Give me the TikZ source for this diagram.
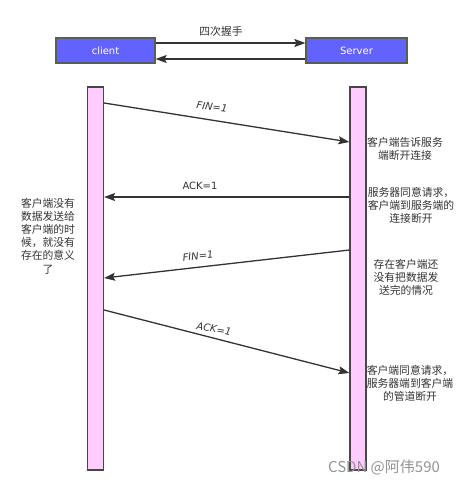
\documentclass[tikz,border=0pt]{standalone}
\usepackage{fontspec}
\setmainfont{DejaVu Sans}
\newfontfamily\cjk{Noto Sans CJK SC}
\usetikzlibrary{arrows.meta}
\definecolor{boxblue}{HTML}{6262FF}
\definecolor{barpink}{HTML}{FFCCFF}
\definecolor{linegray}{HTML}{333333}
\definecolor{txtgray}{HTML}{333333}
\tikzset{
  hostbox/.style={draw=linegray!80, line width=1.2pt, fill=boxblue, text=white,
    minimum width=99pt, minimum height=25pt, inner sep=0pt, font=\fontsize{10}{12}\selectfont},
  lifebar/.style={draw=linegray!90, line width=1.2pt, fill=barpink,
    minimum width=16pt, minimum height=383pt, inner sep=0pt},
  msg/.style={draw=linegray, line width=1.3pt, -{Stealth[length=11pt,width=8pt,inset=2pt]}},
  msglabel/.style={text=txtgray, inner sep=0pt, font=\fontsize{10}{12}\selectfont\itshape},
  note/.style={text=txtgray, inner sep=0pt, align=center, font=\cjk\fontsize{10.8}{13.2}\selectfont}
}
\begin{document}
\begin{tikzpicture}[x=1pt,y=-1pt]
\useasboundingbox (0,0) rectangle (461,489);
% hosts
\node[hostbox] (client) at (105.5,50.5) {client};
\node[hostbox, minimum width=101pt] (server) at (356.5,50.5) {Server};
\node[note] (title) at (221,31) {四次握手};
\draw[msg] (client.east |- 0,43) -- (server.west |- 0,43);
\draw[msg] (server.west |- 0,59) -- (client.east |- 0,59);
% life bars
\node[lifebar] (lb) at (95.5,278.5) {};
\node[lifebar] (rb) at (358,278.5) {};
% message end points
\coordinate (m1s) at (lb.east |- 0,103);
\coordinate (m1e) at (rb.west |- 0,142);
\coordinate (m2s) at (rb.west |- 0,197);
\coordinate (m2e) at (lb.east |- 0,197);
\coordinate (m3s) at (rb.west |- 0,250);
\coordinate (m3e) at (lb.east |- 0,278);
\coordinate (m4s) at (lb.east |- 0,310);
\coordinate (m4e) at (rb.west |- 0,373);
\draw[msg] (m1s) -- (m1e);
\draw[msg] (m2s) -- (m2e);
\draw[msg] (m3s) -- (m3e);
\draw[msg] (m4s) -- (m4e);
\node[msglabel, rotate=-8] (l1) at (212,107) {FIN=1};
\node[msglabel, font=\fontsize{10}{12}\selectfont] (l2) at (200,186) {ACK=1};
\node[msglabel, rotate=6] (l3) at (198,256) {FIN=1};
\node[msglabel, rotate=-10] (l4) at (214,329) {ACK=1};
% notes
\node[note] (n1) at (405,149) {客户端告诉服务\\端断开连接};
\node[note] (n2) at (411,205.5) {服务器同意请求，\\客户端到服务端的\\连接断开};
\node[note] (n3) at (406,277.5) {存在客户端还\\没有把数据发\\送完的情况};
\node[note] (n4) at (410,383.5) {客户端同意请求，\\服务器端到客户端\\的管道断开};
\node[note] (n5) at (48,236) {客户端没有\\数据发送给\\客户端的时\\候，就没有\\存在的意义\\了};
% watermark
\node[inner sep=0pt, text=gray!85, font=\cjk\fontsize{15}{17}\selectfont] (wm) at (384,467) {CSDN @阿伟590};
\end{tikzpicture}
\end{document}
